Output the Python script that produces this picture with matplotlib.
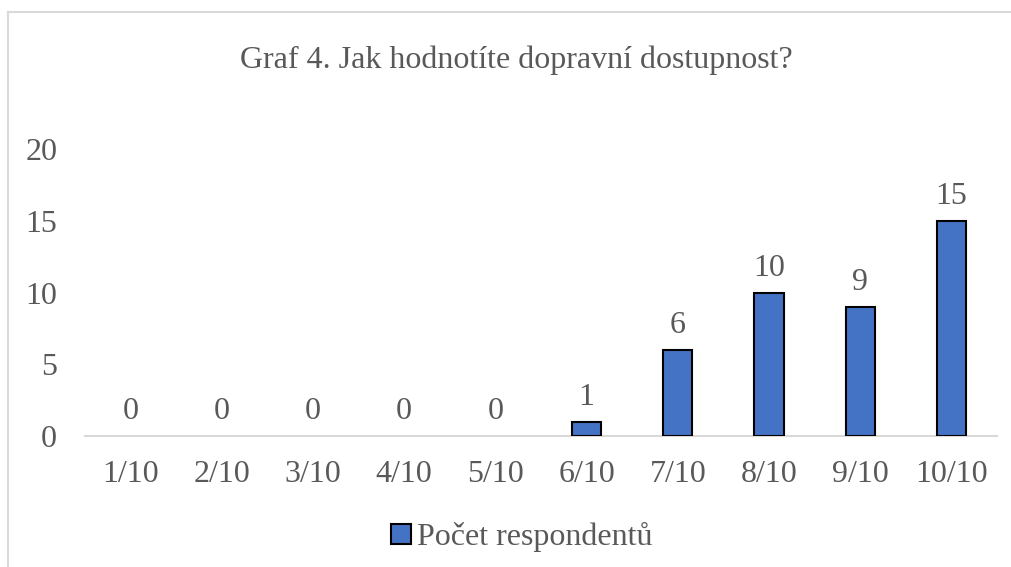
import matplotlib
matplotlib.use("Agg")
import matplotlib.pyplot as plt
from matplotlib.patches import Rectangle
from matplotlib.lines import Line2D

categories = ["1/10", "2/10", "3/10", "4/10", "5/10", "6/10", "7/10", "8/10", "9/10", "10/10"]
values = [0, 0, 0, 0, 0, 1, 6, 10, 9, 15]
yticks = [0, 5, 10, 15, 20]
title = "Graf 4. Jak hodnotíte dopravní dostupnost?"
series_name = "Počet respondentů"

plt.rcParams['font.family'] = ['Liberation Serif', 'DejaVu Serif']
TXT = "#595959"
BAR = "#4472C4"
FS = 23

W, H = 1012, 567
fig = plt.figure(figsize=(W / 100, H / 100), dpi=100)

# chart-area border (top and left visible)
fig.add_artist(Line2D([8 / W, 8 / W], [0, 1 - 12 / H], color="#D9D9D9", lw=1.5, transform=fig.transFigure))
fig.add_artist(Line2D([8 / W, 1], [1 - 12 / H, 1 - 12 / H], color="#D9D9D9", lw=1.5, transform=fig.transFigure))

left, right = 85, 997
top, bottom = 149, 436
ax = fig.add_axes([left / W, 1 - bottom / H, (right - left) / W, (bottom - top) / H])

x = list(range(len(categories)))
lws = [1.5 if v > 0 else 0 for v in values]
bars = ax.bar(x, values, width=0.32, color=BAR, edgecolor="black", linewidth=lws, zorder=3, label=series_name)
ax.set_xlim(-0.5, len(categories) - 0.5)
ax.set_ylim(0, 20)
ax.set_yticks(yticks)
ax.set_xticks(x)
ax.set_xticklabels(categories)

for s in ["top", "right", "left"]:
    ax.spines[s].set_visible(False)
ax.spines["bottom"].set_color("#D9D9D9")
ax.spines["bottom"].set_linewidth(1.5)
ax.tick_params(axis="both", length=0, labelsize=FS, colors=TXT)
ax.tick_params(axis="y", pad=20)
ax.tick_params(axis="x", pad=17)

for xi, v in zip(x, values):
    ax.annotate(str(v), (xi, v), xytext=(0, 7), textcoords="offset points",
                ha="center", va="bottom", fontsize=FS, color=TXT)

fig.text(516 / W, 1 - 60 / H, title, ha="center", va="center", fontsize=FS, color=TXT)

leg = fig.legend(handles=[Rectangle((0, 0), 1, 1, facecolor=BAR, edgecolor="black", linewidth=1.5)],
                 labels=[series_name], loc="center", bbox_to_anchor=(522 / W, 1 - 537 / H),
                 frameon=False, fontsize=FS, handlelength=0.6, handleheight=0.6, handletextpad=0.2)
for t in leg.get_texts():
    t.set_color(TXT)

fig.savefig("out.png", dpi=100)
